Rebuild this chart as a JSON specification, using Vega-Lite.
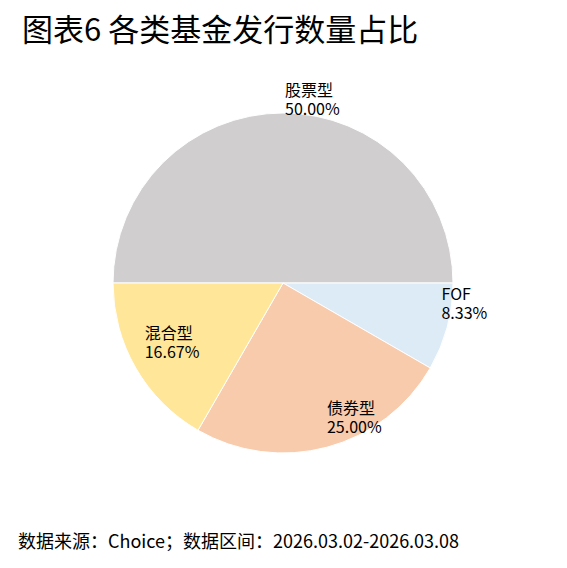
{
  "$schema": "https://vega.github.io/schema/vega-lite/v6.json",
  "padding": 0,
  "background": "white",
  "title": {
    "text": "数据来源：Choice；数据区间：2026.03.02-2026.03.08",
    "orient": "bottom",
    "anchor": "start",
    "offset": -32,
    "dx": 18,
    "font": "Noto Sans CJK SC",
    "fontSize": 18,
    "fontWeight": "normal",
    "color": "#000000"
  },
  "config": {
    "view": {"stroke": "#cccccc", "strokeWidth": 1},
    "concat": {"spacing": 0}
  },
  "vconcat": [
    {
      "width": 566,
      "height": 566,
      "title": {
        "text": "图表6 各类基金发行数量占比",
        "anchor": "start",
        "offset": -48,
        "dx": 22,
        "font": "Noto Sans CJK SC",
        "fontSize": 31,
        "fontWeight": "normal",
        "color": "#000000"
      },
      "data": {
        "values": [
          {"type": "股票型", "count": 6, "label": "股票型\n50.00%"},
          {"type": "FOF", "count": 1, "label": "FOF\n8.33%"},
          {"type": "债券型", "count": 3, "label": "债券型\n25.00%"},
          {"type": "混合型", "count": 2, "label": "混合型\n16.67%"}
        ]
      },
      "encoding": {
        "theta": {
          "field": "count",
          "type": "quantitative",
          "stack": true,
          "scale": {"range": [1.5707963, 7.8539816]}
        },
        "order": {"field": "type", "type": "nominal", "sort": "ascending"}
      },
      "layer": [
        {
          "mark": {"type": "arc", "outerRadius": 170, "stroke": "white", "strokeWidth": 1},
          "encoding": {
            "color": {
              "field": "type",
              "type": "nominal",
              "legend": null,
              "scale": {
                "domain": ["股票型", "FOF", "债券型", "混合型"],
                "range": ["#D0CECE", "#DDEBF7", "#F8CBAD", "#FFE699"]
              }
            }
          }
        },
        {
          "mark": {
            "type": "text",
            "radius": 162,
            "align": "left",
            "baseline": "bottom",
            "dx": 2,
            "dy": -22,
            "font": "Noto Sans CJK SC",
            "fontSize": 16,
            "lineHeight": 19,
            "lineBreak": "\n",
            "color": "#000000"
          },
          "encoding": {
            "detail": {"field": "type", "type": "nominal"},
            "text": {"field": "label", "type": "nominal"}
          }
        }
      ]
    }
  ]
}
